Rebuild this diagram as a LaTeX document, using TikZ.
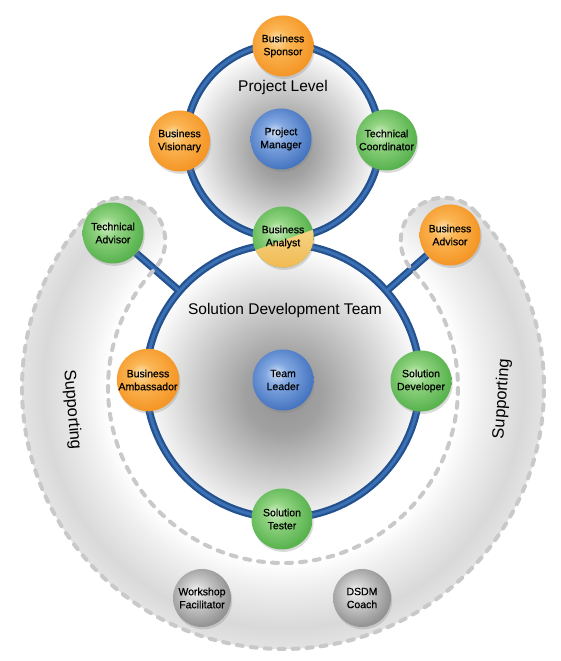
\documentclass[tikz,border=0pt]{standalone}
\usepackage{fontspec}
\setmainfont{Liberation Sans}
\newfontfamily\myrolefam{Liberation Sans}[FakeBold=0.6]
\usetikzlibrary{calc,shadows}
\pgfdeclarelayer{bandlayer}
\pgfdeclarelayer{disclayer}
\pgfdeclarelayer{linelayer}
\pgfdeclarelayer{dashlayer}
\pgfsetlayers{bandlayer,disclayer,linelayer,dashlayer,main}
\definecolor{ringdark}{HTML}{24528F}
\definecolor{ringmid}{HTML}{3C70B4}
\definecolor{orL}{HTML}{FDE3B2}\definecolor{orM}{HTML}{FBB655}\definecolor{orD}{HTML}{F28A14}
\definecolor{grL}{HTML}{D4F0CB}\definecolor{grM}{HTML}{92D482}\definecolor{grD}{HTML}{42A63A}
\definecolor{blL}{HTML}{D2E2F7}\definecolor{blM}{HTML}{84A9E2}\definecolor{blD}{HTML}{2F62B5}
\definecolor{gyL}{HTML}{F6F6F6}\definecolor{gyM}{HTML}{D0D0D0}\definecolor{gyD}{HTML}{7C7C7C}
\definecolor{ylL}{HTML}{F8E3A0}\definecolor{ylD}{HTML}{F0B347}
\pgfdeclareradialshading{orball}{\pgfpoint{-6bp}{6bp}}{color(0bp)=(orL); color(9bp)=(orM); color(34bp)=(orD); color(50bp)=(orD)}
\pgfdeclareradialshading{grball}{\pgfpoint{-6bp}{6bp}}{color(0bp)=(grL); color(9bp)=(grM); color(34bp)=(grD); color(50bp)=(grD)}
\pgfdeclareradialshading{blball}{\pgfpoint{-6bp}{6bp}}{color(0bp)=(blL); color(9bp)=(blM); color(34bp)=(blD); color(50bp)=(blD)}
\pgfdeclareradialshading{gyball}{\pgfpoint{-6bp}{6bp}}{color(0bp)=(gyL); color(9bp)=(gyM); color(34bp)=(gyD); color(50bp)=(gyD)}
\pgfdeclareradialshading{discshade}{\pgfpoint{0bp}{-3bp}}{color(0bp)=(black!42); color(7bp)=(black!37); color(26bp)=(white); color(50bp)=(white)}
\pgfdeclareradialshading{bandshade}{\pgfpoint{0bp}{0bp}}{color(0bp)=(white); color(16.8bp)=(white); color(19bp)=(black!6); color(23bp)=(black!15); color(25bp)=(black!11); color(50bp)=(black!11)}
\newcommand\myrolefont{\myrolefam\fontsize{10.5}{13}\selectfont}
\newcommand\myheadfont{\fontsize{15.5}{18}\selectfont}
\newcommand\mysupfont{\fontsize{16.5}{19}\selectfont}
\begin{document}
\begin{tikzpicture}[x=1pt,y=1pt,
  role/.style={circle, minimum size=61pt, inner sep=0pt, align=center, font=\myrolefont, text=black, shade, drop shadow={shadow xshift=1.2pt, shadow yshift=-2.4pt, opacity=0.28}},
  orrole/.style={role, shading=orball},
  grrole/.style={role, shading=grball},
  blrole/.style={role, shading=blball},
  gyrole/.style={role, shading=gyball, minimum size=58pt},
  ringline/.style={line width=7.5pt, draw=ringdark},
  ringhi/.style={line width=3pt, draw=ringmid},
  dashline/.style={draw=black!21, line width=4pt, dash pattern=on 6pt off 8pt, line cap=round},
  headlabel/.style={font=\myheadfont, inner sep=0pt},
  suplabel/.style={font=\mysupfont, inner sep=0pt}]
\useasboundingbox (0,0) rectangle (561,661);
\coordinate (B) at (283,273);
\coordinate (U) at (283,520);
\coordinate (L) at (283,280);
\coordinate (tj) at ($(L)+(139:137)$);
\coordinate (bj) at ($(L)+(41:137)$);

% nodes
\node[orrole] (sponsor) at (283,615) {Business\\Sponsor};
\node[orrole] (visionary) at (179.5,520) {Business\\Visionary};
\node[grrole] (coordinator) at (386.5,521) {Technical\\Coordinator};
\node[blrole] (pm) at (281,522) {Project\\Manager};
\node[grrole, path picture={\shade[top color=ylL, bottom color=ylD]
   ([shift={(-40,-17.5)}]path picture bounding box.center) --
   ([shift={(40,10.8)}]path picture bounding box.center) --
   ([shift={(40,-40)}]path picture bounding box.center) --
   ([shift={(-40,-40)}]path picture bounding box.center) -- cycle;}] (analyst) at (283,424) {Business\\Analyst};
\node[grrole] (ta) at (113,428) {Technical\\Advisor};
\node[orrole] (ba) at (450,426) {Business\\Advisor};
\node[orrole] (ambassador) at (148,281) {Business\\Ambassador};
\node[blrole] (tl) at (283,281) {Team\\Leader};
\node[grrole] (developer) at (421,280) {Solution\\Developer};
\node[grrole] (tester) at (282,142) {Solution\\Tester};
\node[gyrole] (workshop) at (202,63) {Workshop\\Facilitator};
\node[gyrole] (coach) at (362,63) {DSDM\\Coach};

\node[headlabel] (pl) at (283,573) {Project Level};
\node[headlabel] (sdt) at (285,351) {Solution Development Team};
\node[suplabel, rotate=-85] (supl) at (72,251) {Supporting};
\node[suplabel, rotate=86] (supr) at (502,262) {Supporting};

% band
\begin{pgfonlayer}{bandlayer}
\fill[white] (0,0) rectangle (561,661);
\begin{scope}
\clip ($(B)+(42.5:261)$) arc[start angle=42.5, end angle=-222.5, radius=261]
  arc[start angle=137.5, end angle=-42.5, radius=43]
  arc[start angle=-222.5, end angle=42.5, radius=175]
  arc[start angle=222.5, end angle=42.5, radius=43] -- cycle;
\shade[shading=bandshade] ($(B)+(-261,-261)$) rectangle ($(B)+(261,261)$);
\end{scope}
\end{pgfonlayer}

% discs
\begin{pgfonlayer}{disclayer}
\shade[shading=discshade] (U) circle[radius=97];
\shade[shading=discshade] (L) circle[radius=137];
\end{pgfonlayer}

% rings and connectors
\begin{pgfonlayer}{linelayer}
\foreach \s in {ringline, ringhi} {
  \draw[\s] (ta) -- (tj);
  \draw[\s] (ba) -- (bj);
  \draw[\s] (U) circle[radius=97];
  \draw[\s] (L) circle[radius=137];
}
\end{pgfonlayer}

% dashed outline of supporting band
\begin{pgfonlayer}{dashlayer}
\draw[dashline] ($(B)+(42.5:261)$) arc[start angle=42.5, end angle=-222.5, radius=261]
  arc[start angle=137.5, end angle=-42.5, radius=43]
  arc[start angle=-222.5, end angle=42.5, radius=175]
  arc[start angle=222.5, end angle=42.5, radius=43] -- cycle;
\end{pgfonlayer}
\end{tikzpicture}
\end{document}
